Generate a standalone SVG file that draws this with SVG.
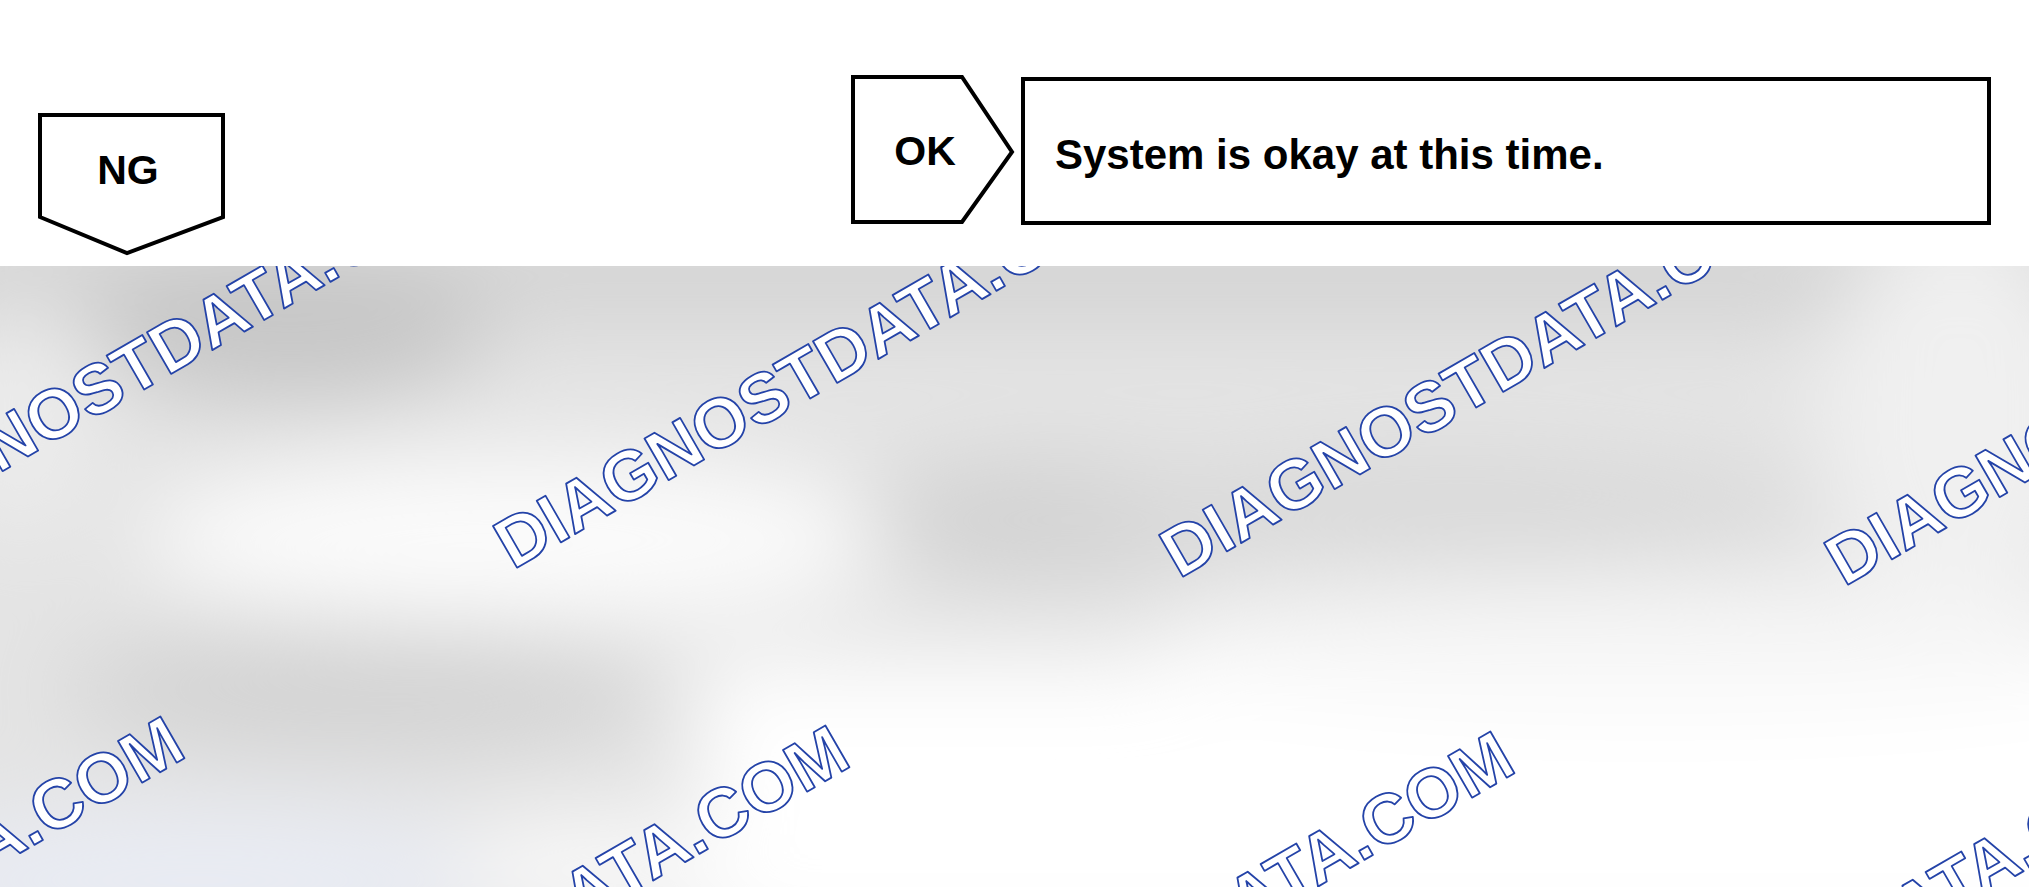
<svg xmlns="http://www.w3.org/2000/svg" width="2029" height="887" viewBox="0 0 2029 887">
  <defs>
    <style>
      .shape { fill: #ffffff; stroke: #000000; stroke-width: 4; stroke-linejoin: miter; }
      .lbl { font-family: "Liberation Sans", Arial, sans-serif; font-weight: bold; font-size: 41px; fill: #000000; }
      .msg { font-size: 42px; }
      .wm { font-family: "Liberation Sans", Arial, sans-serif; font-weight: bold; font-size: 70px; fill: #ffffff; stroke: #2443a8; stroke-width: 1.8; stroke-linejoin: round; }
    </style>
    <filter id="blur" x="-50%" y="-50%" width="200%" height="200%">
      <feGaussianBlur stdDeviation="45"/>
    </filter>
    <clipPath id="bgclip">
      <rect x="0" y="266" width="2029" height="621"/>
    </clipPath>
  </defs>

  <!-- blurred grey background -->
  <g id="background" clip-path="url(#bgclip)">
    <rect x="0" y="266" width="2029" height="621" fill="#e4e4e4"/>
    <g filter="url(#blur)">
      <rect x="-100" y="230" width="2230" height="90" fill="#d2d2d2"/>
      <ellipse cx="290" cy="330" rx="200" ry="70" fill="#c6c6c6"/>
      <ellipse cx="20" cy="420" rx="70" ry="120" fill="#ececec"/>
      <ellipse cx="520" cy="540" rx="380" ry="85" fill="#fbfbfb"/>
      <ellipse cx="1060" cy="520" rx="200" ry="60" fill="#d2d2d2"/>
      <ellipse cx="1450" cy="510" rx="380" ry="55" fill="#d9d9d9"/>
      <ellipse cx="1960" cy="420" rx="140" ry="200" fill="#f0f0f0"/>
      <ellipse cx="360" cy="690" rx="300" ry="65" fill="#d3d3d3"/>
      <rect x="700" y="660" width="1500" height="300" fill="#ffffff"/>
      <ellipse cx="1650" cy="640" rx="500" ry="60" fill="#f6f6f6"/>
      <ellipse cx="200" cy="880" rx="320" ry="70" fill="#e9ecf4"/>
      <ellipse cx="600" cy="870" rx="150" ry="50" fill="#fafafa"/>
    </g>
  </g>

  <!-- watermark -->
  <g id="watermark">
    <text class="wm" transform="translate(-153,561) rotate(-30)">DIAGNOSTDATA.COM</text>
    <text class="wm" transform="translate(513,570) rotate(-30)">DIAGNOSTDATA.COM</text>
    <text class="wm" transform="translate(1179,579) rotate(-30)">DIAGNOSTDATA.COM</text>
    <text class="wm" transform="translate(1844,587) rotate(-30)">DIAGNOSTDATA.COM</text>
    <text class="wm" transform="translate(-449,1124) rotate(-30)">DIAGNOSTDATA.COM</text>
    <text class="wm" transform="translate(216,1133) rotate(-30)">DIAGNOSTDATA.COM</text>
    <text class="wm" transform="translate(881,1139) rotate(-30)">DIAGNOSTDATA.COM</text>
    <text class="wm" transform="translate(1546,1147) rotate(-30)">DIAGNOSTDATA.COM</text>
  </g>

  <!-- white diagram area -->
  <rect x="0" y="0" width="2029" height="266" fill="#ffffff"/>

  <g id="connectors"></g>

  <g id="node-ng">
    <polygon class="shape" points="40,115 223,115 223,217 127,253 40,217"/>
    <text class="lbl" x="128" y="184" text-anchor="middle">NG</text>
  </g>

  <g id="node-ok">
    <polygon class="shape" points="853,77 962,77 1012,152 962,222 853,222"/>
    <text class="lbl" x="925" y="165" text-anchor="middle">OK</text>
  </g>

  <g id="node-msg">
    <rect class="shape" x="1023" y="79" width="966" height="144"/>
    <text class="lbl msg" x="1055" y="169">System is okay at this time.</text>
  </g>
</svg>
